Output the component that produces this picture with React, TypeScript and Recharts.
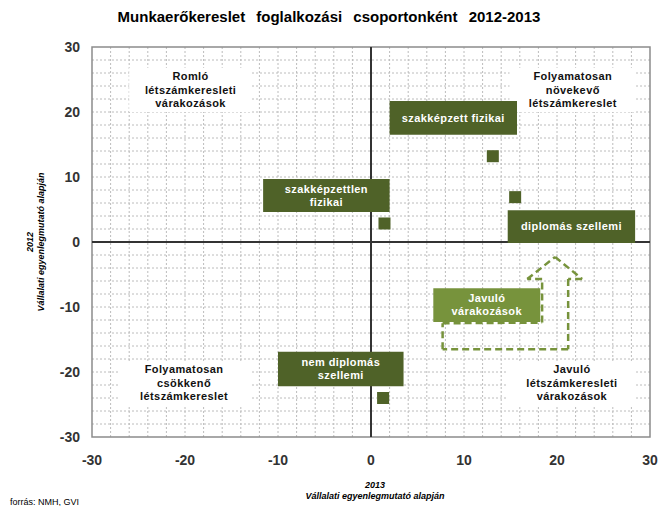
import {
  ScatterChart,
  Scatter,
  XAxis,
  YAxis,
  ReferenceLine,
  ReferenceArea,
  Label,
} from "recharts";

const groups = [
  "szakképzett fizikai",
  "diplomás szellemi",
  "szakképzettlen fizikai",
  "nem diplomás szellemi",
];
const x2013 = [13.1, 15.5, 1.45, 1.3];
const y2012 = [13.2, 6.9, 2.85, -24];

const axisTicks = [-30, -20, -10, 0, 10, 20, 30];
const gridTicks = [
  -28, -26, -24, -22, -20, -18, -16, -14, -12, -10, -8, -6, -4, -2, 0, 2, 4, 6,
  8, 10, 12, 14, 16, 18, 20, 22, 24, 26, 28,
];

// label boxes: [x1, x2, y1, y2], lines
const boxLabels = [
  { r: [2.0, 15.7, 16.5, 21.7], lines: ["szakképzett fizikai"] },
  { r: [-11.6, 2.0, 4.6, 9.7], lines: ["szakképzettlen", "fizikai"] },
  { r: [14.7, 28.4, -0.15, 4.9], lines: ["diplomás szellemi"] },
  { r: [-10, 3.5, -22.2, -16.9], lines: ["nem diplomás", "szellemi"] },
];
const improveBox = { r: [6.7, 18.2, -12.3, -7.1], lines: ["Javuló", "várakozások"] };

const quadrants = [
  { r: [-26, -12.8, 20, 26.8], lines: ["Romló", "létszámkeresleti", "várakozások"] },
  { r: [14.9, 28.5, 20, 26.8], lines: ["Folyamatosan", "növekevő", "létszámkereslet"] },
  { r: [-27.2, -13, -25.1, -18.3], lines: ["Folyamatosan", "csökkenő", "létszámkereslet"] },
  { r: [14.7, 28.5, -25.1, -18.3], lines: ["Javuló", "létszámkeresleti", "várakozások"] },
];

// dashed arrow outline, data coordinates
const arrowX = [7.7, 7.7, 18.4, 18.4, 16.8, 19.8, 22.7, 21.2, 21.2, 7.7];
const arrowY = [-16.5, -12.5, -12.4, -5.7, -5.7, -2.3, -5.7, -5.7, -16.5, -16.5];

const points = groups.map((g, i) => ({ name: g, x: x2013[i], y: y2012[i] }));

const DARK = "#4F6228";
const LIGHT = "#77933C";
const FONT = "'Liberation Sans', Arial, sans-serif";

function BoxText(props: any) {
  const { viewBox, lines, color, size, gap } = props;
  if (!viewBox) return null;
  const cx = viewBox.x + viewBox.width / 2;
  const cy = viewBox.y + viewBox.height / 2;
  const start = cy - ((lines.length - 1) * gap) / 2;
  return (
    <text
      textAnchor="middle"
      fill={color}
      fontFamily={FONT}
      fontWeight="bold"
      fontSize={size}
      letterSpacing={0.4}
    >
      {lines.map((l: string, i: number) => (
        <tspan key={i} x={cx} y={start + i * gap} dy="0.35em">
          {l}
        </tspan>
      ))}
    </text>
  );
}

function Square(p: any) {
  return <rect x={p.cx - 6} y={p.cy - 6} width={12} height={12} fill={DARK} />;
}

function YTitle(props: any) {
  const vb = props.viewBox;
  const cy = vb.y + vb.height / 2;
  return (
    <g fontFamily={FONT} fontWeight="bold" fontStyle="italic" fontSize={9} fill="#000">
      <text x={30} y={cy} textAnchor="middle" transform={`rotate(-90 30 ${cy})`} dy="0.35em">
        2012
      </text>
      <text x={41} y={cy} textAnchor="middle" transform={`rotate(-90 41 ${cy})`} dy="0.35em">
        Vállalati egyenlegmutató alapján
      </text>
    </g>
  );
}

function XTitle(props: any) {
  const vb = props.viewBox;
  const cx = vb.x + vb.width / 2 + 4;
  return (
    <g fontFamily={FONT} fontWeight="bold" fontStyle="italic" fontSize={9} fill="#000">
      <text x={cx} y={485} textAnchor="middle" dy="0.35em">
        2013
      </text>
      <text x={cx} y={496} textAnchor="middle" dy="0.35em">
        Vállalati egyenlegmutató alapján
      </text>
    </g>
  );
}

export default function App() {
  return (
    <div style={{ position: "absolute", left: 0, top: 0, width: 658, height: 506, background: "#fff" }}>
      <div
        style={{
          position: "absolute",
          top: 8,
          left: 0,
          width: 658,
          textAlign: "center",
          fontFamily: FONT,
          fontWeight: "bold",
          fontSize: 15,
          wordSpacing: 7,
          color: "#000",
        }}
      >
        Munkaerőkereslet foglalkozási csoportonként 2012-2013
      </div>
      <ScatterChart
        width={658}
        height={506}
        margin={{ top: 47, right: 8, bottom: 39, left: 32 }}
      >
        <XAxis
          type="number"
          dataKey="x"
          domain={[-30, 30]}
          ticks={axisTicks}
          axisLine={false}
          tickLine={false}
          tickMargin={12}
          height={30}
          tick={{ fontFamily: FONT, fontWeight: "bold", fontSize: 14, fill: "#333" }}
        >
          <Label content={<XTitle />} />
        </XAxis>
        <YAxis
          type="number"
          dataKey="y"
          domain={[-30, 30]}
          ticks={axisTicks}
          axisLine={false}
          tickLine={false}
          tickMargin={6}
          width={60}
          tick={{ fontFamily: FONT, fontWeight: "bold", fontSize: 14, fill: "#333" }}
        >
          <Label content={<YTitle />} />
        </YAxis>
        {gridTicks.map((t) => (
          <ReferenceLine key={"gx" + t} x={t} stroke="#bcbcbc" strokeDasharray="2 2" zIndex={-50} />
        ))}
        {gridTicks.map((t) => (
          <ReferenceLine key={"gy" + t} y={t} stroke="#bcbcbc" strokeDasharray="2 2" zIndex={-50} />
        ))}
        {quadrants.map((q, i) => (
          <ReferenceArea
            key={"q" + i}
            x1={q.r[0]}
            x2={q.r[1]}
            y1={q.r[2]}
            y2={q.r[3]}
            fill="#fff"
            fillOpacity={1}
            stroke="none"
            zIndex={0}
            label={<BoxText lines={q.lines} color="#111" size={11} gap={13.5} />}
          />
        ))}
        <ReferenceArea
          x1={-30}
          x2={30}
          y1={-30}
          y2={30}
          fill="none"
          stroke="#8c8c8c"
          strokeWidth={1.5}
          zIndex={10}
        />
        <ReferenceLine x={0} stroke="#333" strokeWidth={2} zIndex={20} />
        <ReferenceLine y={0} stroke="#333" strokeWidth={2} zIndex={20} />
        {arrowX.slice(1).map((_, i) => (
          <ReferenceLine
            key={"a" + i}
            segment={[
              { x: arrowX[i], y: arrowY[i] },
              { x: arrowX[i + 1], y: arrowY[i + 1] },
            ]}
            stroke={LIGHT}
            strokeWidth={2.5}
            strokeDasharray="7 4"
            zIndex={30}
          />
        ))}
        {boxLabels.map((b, i) => (
          <ReferenceArea
            key={"b" + i}
            x1={b.r[0]}
            x2={b.r[1]}
            y1={b.r[2]}
            y2={b.r[3]}
            fill={DARK}
            fillOpacity={1}
            stroke="none"
            zIndex={150}
            label={<BoxText lines={b.lines} color="#fff" size={11} gap={13} />}
          />
        ))}
        <ReferenceArea
          x1={improveBox.r[0]}
          x2={improveBox.r[1]}
          y1={improveBox.r[2]}
          y2={improveBox.r[3]}
          fill={LIGHT}
          fillOpacity={1}
          stroke="none"
          zIndex={150}
          label={<BoxText lines={improveBox.lines} color="#fff" size={11} gap={13} />}
        />
        <Scatter data={points} shape={<Square />} isAnimationActive={false} />
      </ScatterChart>
      <div
        style={{
          position: "absolute",
          left: 10,
          top: 497,
          fontFamily: FONT,
          fontSize: 9,
          color: "#000",
        }}
      >
        forrás: NMH, GVI
      </div>
    </div>
  );
}
